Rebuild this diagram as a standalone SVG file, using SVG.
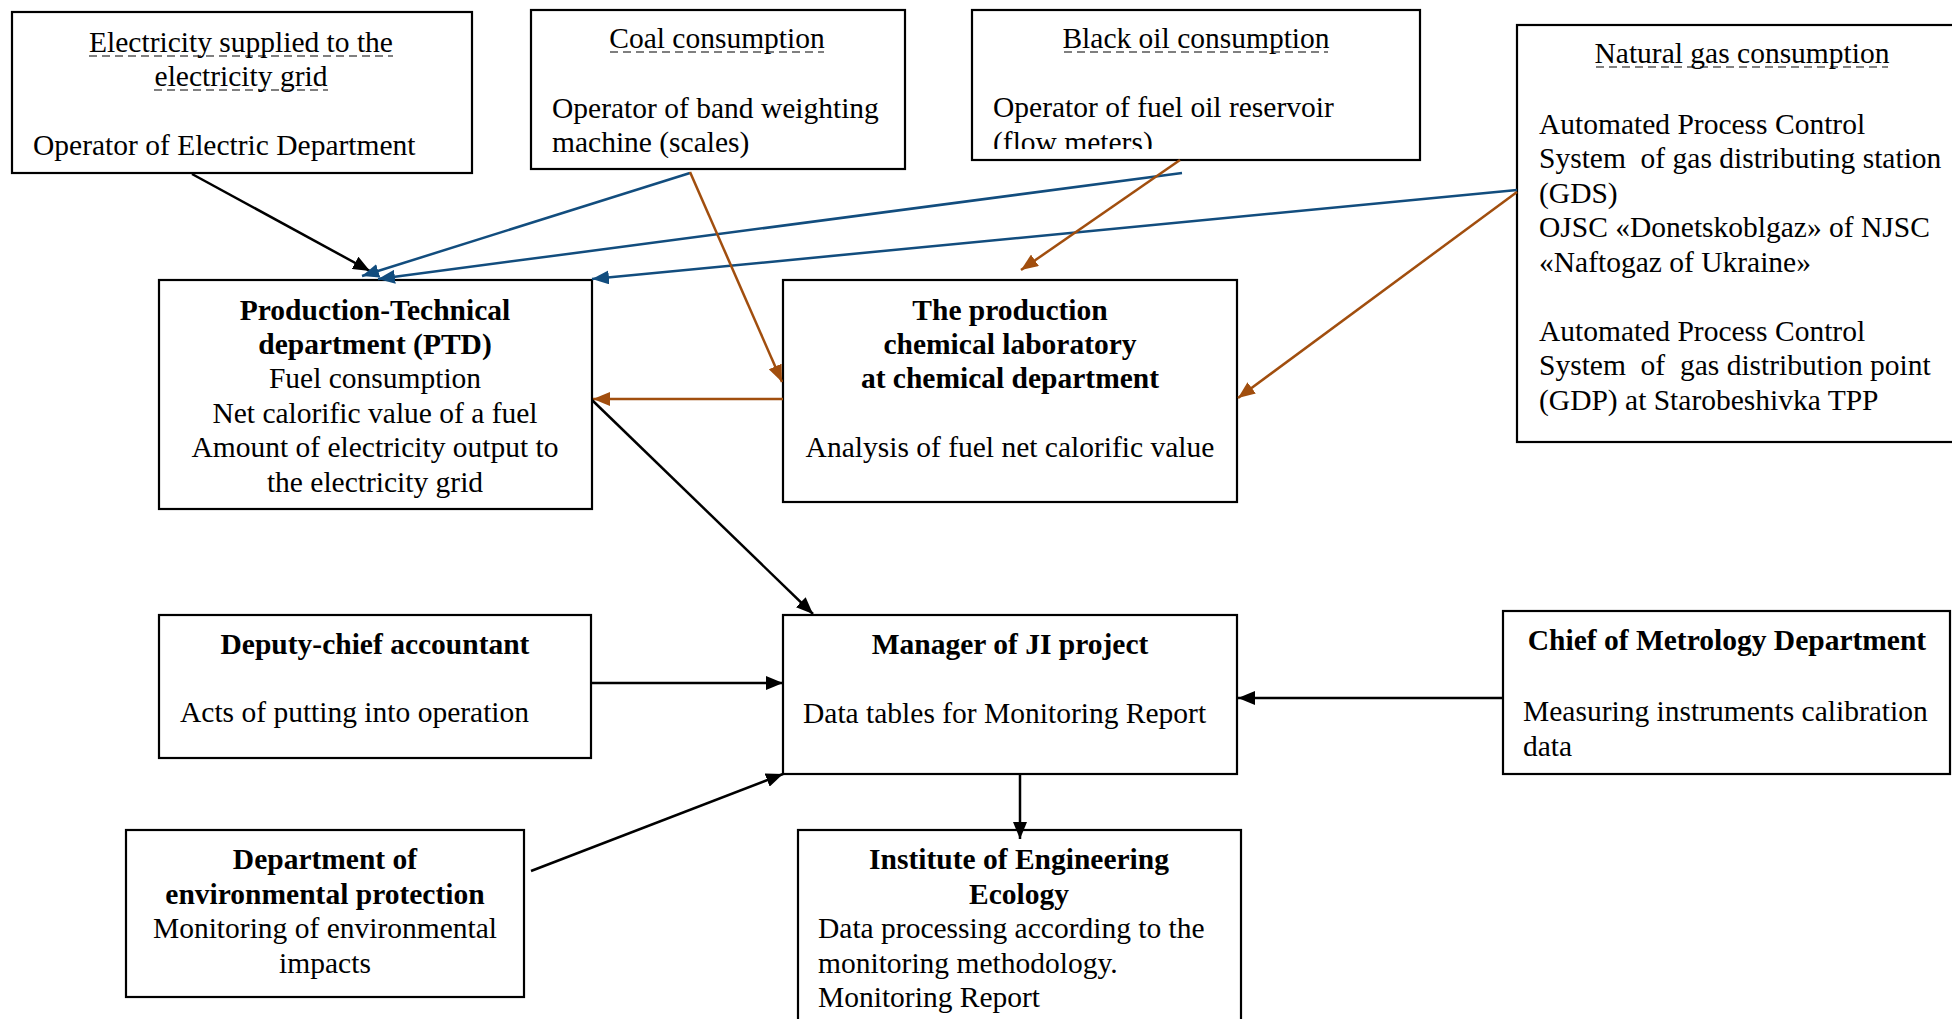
<svg xmlns="http://www.w3.org/2000/svg" width="1952" height="1019" viewBox="0 0 1952 1019">
<style>
.box{fill:#fff;stroke:#000;stroke-width:2.2}
.t{font-family:"Liberation Serif","Times New Roman",serif;font-size:29.5px;fill:#000;white-space:pre}
.b{font-weight:bold}
.c{text-anchor:middle}
.ul{stroke:#000;stroke-width:1.2;stroke-dasharray:8 5}
.k{stroke:#000;stroke-width:2.5;fill:none}
.bl{stroke:#124D7E;stroke-width:2.5;fill:none}
.br{stroke:#A14E0E;stroke-width:2.5;fill:none}
</style>
<defs>
<marker id="ak" markerUnits="userSpaceOnUse" markerWidth="18" markerHeight="14" refX="17" refY="7" orient="auto"><path d="M0,0 L17,7 L0,14 z" fill="#000"/></marker>
<marker id="ab" markerUnits="userSpaceOnUse" markerWidth="18" markerHeight="14" refX="17" refY="7" orient="auto"><path d="M0,0 L17,7 L0,14 z" fill="#124D7E"/></marker>
<marker id="ar" markerUnits="userSpaceOnUse" markerWidth="18" markerHeight="14" refX="17" refY="7" orient="auto"><path d="M0,0 L17,7 L0,14 z" fill="#A14E0E"/></marker>
<clipPath id="clipOil"><rect x="972" y="9" width="448" height="140"/></clipPath>
</defs>
<rect width="1952" height="1019" fill="#fff"/>

<g id="electricity">
<rect class="box" x="12" y="12" width="460" height="161"/>
<text class="t c" x="241" y="52">Electricity supplied to the</text>
<text class="t c" x="241" y="86">electricity grid</text>
<line class="ul" x1="89" y1="56" x2="393" y2="56"/>
<line class="ul" x1="154" y1="90" x2="328" y2="90"/>
<text class="t" x="33" y="155">Operator of Electric Department</text>
</g>

<g id="coal">
<rect class="box" x="531" y="10" width="374" height="159"/>
<text class="t c" x="717" y="48">Coal consumption</text>
<line class="ul" x1="610" y1="52" x2="824" y2="52"/>
<text class="t" x="552" y="118">Operator of band weighting</text>
<text class="t" x="552" y="152">machine (scales)</text>
</g>

<g id="blackoil">
<rect class="box" x="972" y="10" width="448" height="150"/>
<text class="t c" x="1196" y="48">Black oil consumption</text>
<line class="ul" x1="1064" y1="52" x2="1328" y2="52"/>
<g clip-path="url(#clipOil)">
<text class="t" x="993" y="117">Operator of fuel oil reservoir</text>
<text class="t" x="993" y="151.5">(flow meters)</text>
</g>
</g>

<g id="naturalgas">
<rect class="box" x="1517" y="25" width="450" height="417"/>
<text class="t c" x="1742" y="63">Natural gas consumption</text>
<line class="ul" x1="1596" y1="67" x2="1888" y2="67"/>
<text class="t" x="1539" y="133.5">Automated Process Control</text>
<text class="t" x="1539" y="168">System  of gas distributing station</text>
<text class="t" x="1539" y="202.5">(GDS)</text>
<text class="t" x="1539" y="237">OJSC «Donetskoblgaz» of NJSC</text>
<text class="t" x="1539" y="271.5">«Naftogaz of Ukraine»</text>
<text class="t" x="1539" y="340.5">Automated Process Control</text>
<text class="t" x="1539" y="375">System  of  gas distribution point</text>
<text class="t" x="1539" y="409.5">(GDP) at Starobeshivka TPP</text>
</g>

<g id="ptd">
<rect class="box" x="159" y="280" width="433" height="229"/>
<text class="t b c" x="375" y="320">Production-Technical</text>
<text class="t b c" x="375" y="354">department (PTD)</text>
<text class="t c" x="375" y="388">Fuel consumption</text>
<text class="t c" x="375" y="422.5">Net calorific value of a fuel</text>
<text class="t c" x="375" y="457">Amount of electricity output to</text>
<text class="t c" x="375" y="491.5">the electricity grid</text>
</g>

<g id="chemlab">
<rect class="box" x="783" y="280" width="454" height="222"/>
<text class="t b c" x="1010" y="320">The production</text>
<text class="t b c" x="1010" y="354">chemical laboratory</text>
<text class="t b c" x="1010" y="388">at chemical department</text>
<text class="t c" x="1010" y="457">Analysis of fuel net calorific value</text>
</g>

<g id="deputy">
<rect class="box" x="159" y="615" width="432" height="143"/>
<text class="t b c" x="375" y="654">Deputy-chief accountant</text>
<text class="t" x="180" y="722">Acts of putting into operation</text>
</g>

<g id="manager">
<rect class="box" x="783" y="615" width="454" height="159"/>
<text class="t b c" x="1010" y="654">Manager of JI project</text>
<text class="t" x="803" y="723">Data tables for Monitoring Report</text>
</g>

<g id="metrology">
<rect class="box" x="1503" y="611" width="447" height="163"/>
<text class="t b c" x="1727" y="650">Chief of Metrology Department</text>
<text class="t" x="1523" y="721">Measuring instruments calibration</text>
<text class="t" x="1523" y="755.5">data</text>
</g>

<g id="envprotection">
<rect class="box" x="126" y="830" width="398" height="167"/>
<text class="t b c" x="325" y="869">Department of</text>
<text class="t b c" x="325" y="904">environmental protection</text>
<text class="t c" x="325" y="938">Monitoring of environmental</text>
<text class="t c" x="325" y="972.5">impacts</text>
</g>

<g id="institute">
<rect class="box" x="798" y="830" width="443" height="220"/>
<text class="t b c" x="1019" y="869">Institute of Engineering</text>
<text class="t b c" x="1019" y="904">Ecology</text>
<text class="t" x="818" y="938">Data processing according to the</text>
<text class="t" x="818" y="972.5">monitoring methodology.</text>
<text class="t" x="818" y="1007">Monitoring Report</text>
</g>

<g id="connectors">
<line class="k" x1="192" y1="174" x2="370" y2="271" marker-end="url(#ak)"/>
<line class="bl" x1="690" y1="173" x2="362" y2="276" marker-end="url(#ab)"/>
<line class="bl" x1="1182" y1="173" x2="378" y2="279" marker-end="url(#ab)"/>
<line class="bl" x1="1517" y1="190" x2="592" y2="279" marker-end="url(#ab)"/>
<line class="br" x1="690" y1="172" x2="782" y2="382" marker-end="url(#ar)"/>
<line class="br" x1="1180" y1="160" x2="1021" y2="270" marker-end="url(#ar)"/>
<line class="br" x1="1517" y1="192" x2="1238" y2="398" marker-end="url(#ar)"/>
<line class="br" x1="783" y1="399" x2="593" y2="399" marker-end="url(#ar)"/>
<line class="k" x1="592" y1="400" x2="813" y2="614" marker-end="url(#ak)"/>
<line class="k" x1="591" y1="683" x2="783" y2="683" marker-end="url(#ak)"/>
<line class="k" x1="531" y1="871" x2="783" y2="774" marker-end="url(#ak)"/>
<line class="k" x1="1502" y1="698" x2="1238" y2="698" marker-end="url(#ak)"/>
<line class="k" x1="1020" y1="774" x2="1020" y2="839" marker-end="url(#ak)"/>
</g>
</svg>
